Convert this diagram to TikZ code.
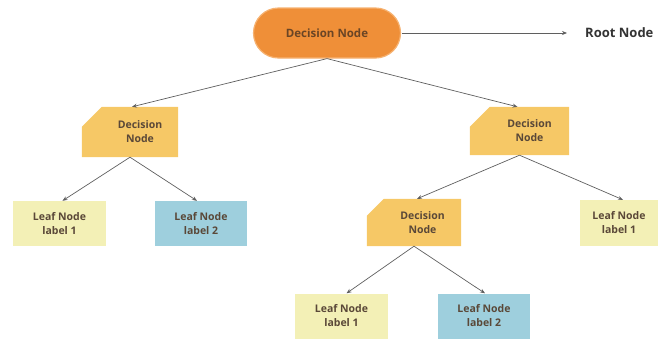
\documentclass[tikz,border=0pt]{standalone}
\usepackage{fontspec}
\setmainfont{Open Sans}
\usetikzlibrary{arrows.meta,shapes.misc}
\definecolor{rootfill}{HTML}{EF8F38}
\definecolor{rootdraw}{HTML}{F6B271}
\definecolor{decfill}{HTML}{F6C866}
\definecolor{leafy}{HTML}{F3F0B6}
\definecolor{leafb}{HTML}{9ECFDD}
\definecolor{txt}{HTML}{5A4838}
\definecolor{roottxt}{HTML}{6A4525}
\definecolor{conn}{HTML}{5F5F5F}
\tikzset{
  x=1pt, y=-1pt,
  lbl/.style={font=\bfseries\fontsize{10.5}{14}\selectfont, text=txt, align=center, inner sep=0pt},
  anchorbox/.style={rectangle, draw=none, inner sep=0pt},
  leafbox/.style={rectangle, inner sep=0pt, font=\bfseries\fontsize{10.5}{14}\selectfont, text=txt, align=center},
  conn/.style={draw=conn, line width=0.7pt, -{Stealth[length=5pt,width=4pt]}},
}
\begin{document}
\begin{tikzpicture}
\useasboundingbox (0,0) rectangle (661,338);
% root
\node[rounded rectangle, fill=rootfill, draw=rootdraw, line width=1.2pt,
      minimum width=147pt, minimum height=50pt, inner sep=0pt,
      font=\bfseries\fontsize{11.5}{14}\selectfont, text=roottxt] (root) at (327,33) {Decision Node};
\node[font=\bfseries\fontsize{13}{15}\selectfont, text=black!80, anchor=west, inner sep=0pt] (rn) at (585,33) {Root Node};
\draw[conn] ([xshift=1pt]root.east) -- ([xshift=-18pt]rn.west);

% decision nodes (chamfered top-left corner)
\node[anchorbox, minimum width=96pt, minimum height=50pt] (d1) at (130,132) {};
\fill[decfill] ([xshift=20pt]d1.north west) -- (d1.north east) -- (d1.south east) -- (d1.south west) -- ([yshift=-20pt]d1.north west) -- cycle;
\node[lbl] (d1t) at ([xshift=10pt]d1.center) {Decision\\Node};

\node[anchorbox, minimum width=99pt, minimum height=48pt] (d2) at (519.5,131) {};
\fill[decfill] ([xshift=20pt]d2.north west) -- (d2.north east) -- (d2.south east) -- (d2.south west) -- ([yshift=-20pt]d2.north west) -- cycle;
\node[lbl] (d2t) at ([xshift=10pt]d2.center) {Decision\\Node};

\node[anchorbox, minimum width=94pt, minimum height=47pt] (d3) at (414,222.5) {};
\fill[decfill] ([xshift=17pt]d3.north west) -- (d3.north east) -- (d3.south east) -- (d3.south west) -- ([yshift=-17pt]d3.north west) -- cycle;
\node[lbl] (d3t) at ([xshift=8.5pt]d3.center) {Decision\\Node};

% leaves
\node[leafbox, fill=leafy, minimum width=93pt, minimum height=45pt] (l1) at (59.5,223.5) {Leaf Node\\label 1};
\node[leafbox, fill=leafb, minimum width=92pt, minimum height=45pt] (l2) at (201,223.5) {Leaf Node\\label 2};
\node[leafbox, fill=leafy, minimum width=78pt, minimum height=46pt] (l3) at (619,223) {Leaf Node\\label 1};
\node[leafbox, fill=leafy, minimum width=93pt, minimum height=45pt] (l4) at (341.5,316) {Leaf Node\\label 1};
\node[leafbox, fill=leafb, minimum width=92pt, minimum height=45pt] (l5) at (484,316) {Leaf Node\\label 2};

% connectors
\draw[conn] (root.south) -- ([xshift=2pt]d1.north);
\draw[conn] (root.south) -- ([xshift=-2pt]d2.north);
\draw[conn] (d1.south) -- ([xshift=3pt]l1.north);
\draw[conn] (d1.south) -- ([xshift=-4pt]l2.north);
\draw[conn] (d2.south) -- ([xshift=3pt]d3.north);
\draw[conn] (d2.south) -- ([xshift=4pt]l3.north);
\draw[conn] (d3.south) -- ([xshift=5pt]l4.north);
\draw[conn] (d3.south) -- ([xshift=1pt]l5.north);
\end{tikzpicture}
\end{document}
